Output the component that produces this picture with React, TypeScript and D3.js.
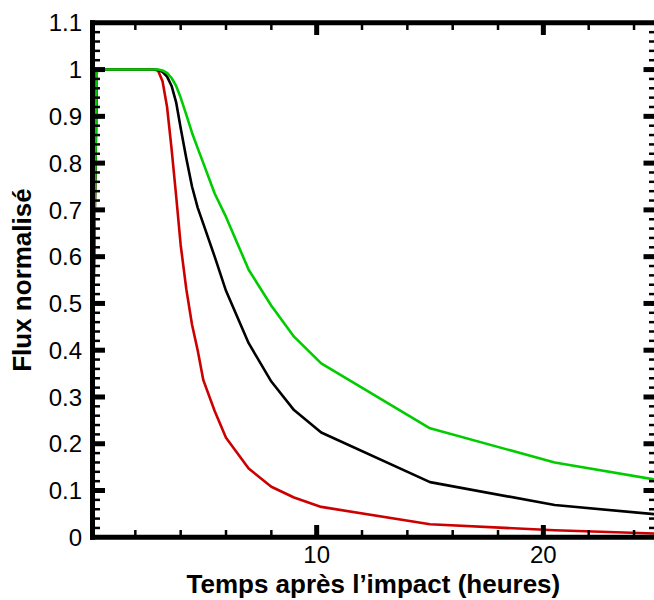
import React from "react";
import * as d3 from "d3";

const hours = [0, 0.3, 2.8, 3.0, 3.2, 3.4, 3.6, 3.8, 4.0, 4.25, 4.5, 4.75, 5.0, 5.5, 6, 7, 8, 9, 10.2, 15, 20.5, 25];
const redFlux = [0, 1, 1, 0.998, 0.975, 0.92, 0.83, 0.73, 0.625, 0.53, 0.455, 0.4, 0.336, 0.27, 0.213, 0.147, 0.108, 0.085, 0.065, 0.028, 0.015, 0.008];
const blackFlux = [0, 1, 1, 0.999, 0.995, 0.985, 0.965, 0.93, 0.875, 0.81, 0.75, 0.705, 0.67, 0.6, 0.527, 0.415, 0.333, 0.272, 0.224, 0.118, 0.069, 0.049];
const greenFlux = [0, 1, 1, 1.0, 0.998, 0.993, 0.982, 0.965, 0.94, 0.903, 0.865, 0.832, 0.8, 0.735, 0.685, 0.572, 0.495, 0.429, 0.372, 0.233, 0.16, 0.123];

const seriesColors = ["#cc0000", "#000000", "#00cc00"];
const seriesValues = [redFlux, blackFlux, greenFlux];

const xTickLabels = [10, 20];
const yTickLabels = [0, 0.1, 0.2, 0.3, 0.4, 0.5, 0.6, 0.7, 0.8, 0.9, 1, 1.1];
const xTitle = "Temps après l’impact (heures)";
const yTitle = "Flux normalisé";

export default function App() {
  const W = 654, H = 600;
  const x = d3.scaleLinear().domain([0, 25]).range([90, 656.7]);
  const y = d3.scaleLinear().domain([0, 1.1]).range([537.3, 22.8]);
  const line = d3.line<number>()
    .x((_, i) => x(hours[i]))
    .y((d) => y(d))
    .curve(d3.curveLinear);

  const xMinor = d3.range(2, 25, 2).filter((v) => v % 10 !== 0);
  const xMajor = [10, 20];
  const yAll = d3.range(1, 55).map((i) => +(i * 0.02).toFixed(2));
  const yMajor = yAll.filter((v) => Math.abs(v * 10 - Math.round(v * 10)) < 1e-6);
  const yMinor = yAll.filter((v) => !yMajor.includes(v));

  const font = "'Liberation Sans', Arial, Helvetica, sans-serif";
  const xL = 92.5, xR = x(25), yB = y(0), yT = y(1.1);

  return (
    <svg width={W} height={H} style={{ position: "absolute", left: 0, top: 0, background: "#fff" }} fontFamily={font}>
      <defs>
        <clipPath id="plotclip">
          <rect x={x(0)} y={yT} width={xR - x(0)} height={yB - yT} />
        </clipPath>
      </defs>
      <g clipPath="url(#plotclip)">
        {seriesValues.map((vals, k) => (
          <path key={k} d={line(vals) || ""} fill="none" stroke={seriesColors[k]} strokeWidth={2.6} strokeLinejoin="round" strokeLinecap="round" />
        ))}
      </g>
      <g stroke="#000">
        {yMinor.map((v) => (
          <g key={"ym" + v}>
            <line x1={xL} x2={100} y1={y(v)} y2={y(v)} strokeWidth={2.5} />
            <line x1={649} x2={xR} y1={y(v)} y2={y(v)} strokeWidth={2.5} />
          </g>
        ))}
        {yMajor.map((v) => (
          <g key={"yM" + v}>
            <line x1={xL} x2={105} y1={y(v)} y2={y(v)} strokeWidth={5} />
            <line x1={643.5} x2={xR} y1={y(v)} y2={y(v)} strokeWidth={5} />
          </g>
        ))}
        {xMinor.map((v) => (
          <g key={"xm" + v}>
            <line x1={x(v)} x2={x(v)} y1={yB} y2={530} strokeWidth={2.5} />
            <line x1={x(v)} x2={x(v)} y1={yT} y2={30} strokeWidth={2.5} />
          </g>
        ))}
        {xMajor.map((v) => (
          <g key={"xM" + v}>
            <line x1={x(v)} x2={x(v)} y1={yB} y2={525} strokeWidth={5} />
            <line x1={x(v)} x2={x(v)} y1={yT} y2={35} strokeWidth={5} />
          </g>
        ))}
        <line x1={xL} x2={xL} y1={yT - 2.5} y2={yB + 2.5} strokeWidth={5} />
        <line x1={xR} x2={xR} y1={yT - 2.5} y2={yB + 2.5} strokeWidth={5} />
        <line x1={xL - 2.5} x2={xR + 2.5} y1={yB} y2={yB} strokeWidth={5} />
        <line x1={xL - 2.5} x2={xR + 2.5} y1={yT} y2={yT} strokeWidth={5} />
      </g>
      <g fontSize={24} fill="#000">
        {yTickLabels.map((v) => (
          <text key={"yl" + v} x={82} y={y(v)} dy="0.36em" textAnchor="end">{String(v)}</text>
        ))}
        {xTickLabels.map((v) => (
          <text key={"xl" + v} x={x(v)} y={563} textAnchor="middle">{String(v)}</text>
        ))}
      </g>
      <text x={(x(0) + xR) / 2} y={593} textAnchor="middle" fontSize={26} fontWeight="bold">{xTitle}</text>
      <text transform={`translate(31, ${(yT + yB) / 2}) rotate(-90)`} textAnchor="middle" fontSize={26} fontWeight="bold">{yTitle}</text>
    </svg>
  );
}
